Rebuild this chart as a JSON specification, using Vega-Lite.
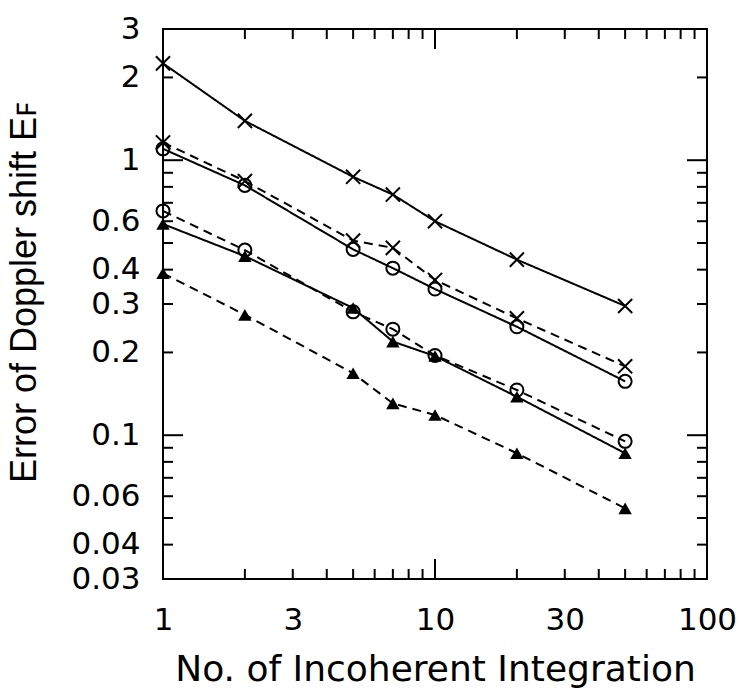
{
  "$schema": "https://vega.github.io/schema/vega-lite/v6.json",
  "autosize": "none",
  "width": 544,
  "height": 550,
  "padding": {"left": 163, "top": 29, "right": 38, "bottom": 109},
  "background": "white",
  "config": {
    "view": {"stroke": "black", "strokeWidth": 2},
    "axis": {
      "grid": false,
      "domain": false,
      "ticks": false,
      "labelColor": "black",
      "titleColor": "black",
      "labelFont": "DejaVu Sans",
      "labelFontSize": 31,
      "labelFontWeight": "normal",
      "labelFlush": false,
      "labelOverlap": false,
      "titleFontWeight": "normal"
    }
  },
  "datasets": {
    "points": [
      {"n": 1, "err": 2.25, "group": "X", "variant": "1"},
      {"n": 2, "err": 1.39, "group": "X", "variant": "1"},
      {"n": 5, "err": 0.87, "group": "X", "variant": "1"},
      {"n": 7, "err": 0.75, "group": "X", "variant": "1"},
      {"n": 10, "err": 0.6, "group": "X", "variant": "1"},
      {"n": 20, "err": 0.435, "group": "X", "variant": "1"},
      {"n": 50, "err": 0.295, "group": "X", "variant": "1"},
      {"n": 1, "err": 1.16, "group": "X", "variant": "2"},
      {"n": 2, "err": 0.84, "group": "X", "variant": "2"},
      {"n": 5, "err": 0.51, "group": "X", "variant": "2"},
      {"n": 7, "err": 0.48, "group": "X", "variant": "2"},
      {"n": 10, "err": 0.367, "group": "X", "variant": "2"},
      {"n": 20, "err": 0.266, "group": "X", "variant": "2"},
      {"n": 50, "err": 0.178, "group": "X", "variant": "2"},
      {"n": 1, "err": 1.1, "group": "O", "variant": "1"},
      {"n": 2, "err": 0.81, "group": "O", "variant": "1"},
      {"n": 5, "err": 0.474, "group": "O", "variant": "1"},
      {"n": 7, "err": 0.405, "group": "O", "variant": "1"},
      {"n": 10, "err": 0.34, "group": "O", "variant": "1"},
      {"n": 20, "err": 0.248, "group": "O", "variant": "1"},
      {"n": 50, "err": 0.157, "group": "O", "variant": "1"},
      {"n": 1, "err": 0.654, "group": "O", "variant": "2"},
      {"n": 2, "err": 0.471, "group": "O", "variant": "2"},
      {"n": 5, "err": 0.281, "group": "O", "variant": "2"},
      {"n": 7, "err": 0.243, "group": "O", "variant": "2"},
      {"n": 10, "err": 0.195, "group": "O", "variant": "2"},
      {"n": 20, "err": 0.146, "group": "O", "variant": "2"},
      {"n": 50, "err": 0.095, "group": "O", "variant": "2"},
      {"n": 1, "err": 0.586, "group": "T", "variant": "1"},
      {"n": 2, "err": 0.448, "group": "T", "variant": "1"},
      {"n": 5, "err": 0.29, "group": "T", "variant": "1"},
      {"n": 7, "err": 0.219, "group": "T", "variant": "1"},
      {"n": 10, "err": 0.194, "group": "T", "variant": "1"},
      {"n": 20, "err": 0.138, "group": "T", "variant": "1"},
      {"n": 50, "err": 0.086, "group": "T", "variant": "1"},
      {"n": 1, "err": 0.388, "group": "T", "variant": "2"},
      {"n": 2, "err": 0.274, "group": "T", "variant": "2"},
      {"n": 5, "err": 0.168, "group": "T", "variant": "2"},
      {"n": 7, "err": 0.1305, "group": "T", "variant": "2"},
      {"n": 10, "err": 0.1185, "group": "T", "variant": "2"},
      {"n": 20, "err": 0.086, "group": "T", "variant": "2"},
      {"n": 50, "err": 0.0542, "group": "T", "variant": "2"}
    ],
    "xticks": [
      {"n": 1, "kind": "major"}, {"n": 2, "kind": "minor"}, {"n": 3, "kind": "minor"},
      {"n": 4, "kind": "minor"}, {"n": 5, "kind": "minor"}, {"n": 6, "kind": "minor"},
      {"n": 7, "kind": "minor"}, {"n": 8, "kind": "minor"}, {"n": 9, "kind": "minor"},
      {"n": 10, "kind": "major"}, {"n": 20, "kind": "minor"}, {"n": 30, "kind": "minor"},
      {"n": 40, "kind": "minor"}, {"n": 50, "kind": "minor"}, {"n": 60, "kind": "minor"},
      {"n": 70, "kind": "minor"}, {"n": 80, "kind": "minor"}, {"n": 90, "kind": "minor"},
      {"n": 100, "kind": "major"}
    ],
    "yticks": [
      {"err": 0.04, "kind": "minor"}, {"err": 0.05, "kind": "minor"}, {"err": 0.06, "kind": "minor"},
      {"err": 0.07, "kind": "minor"}, {"err": 0.08, "kind": "minor"}, {"err": 0.09, "kind": "minor"},
      {"err": 0.1, "kind": "major"}, {"err": 0.2, "kind": "minor"}, {"err": 0.3, "kind": "minor"},
      {"err": 0.4, "kind": "minor"}, {"err": 0.5, "kind": "minor"}, {"err": 0.6, "kind": "minor"},
      {"err": 0.7, "kind": "minor"}, {"err": 0.8, "kind": "minor"}, {"err": 0.9, "kind": "minor"},
      {"err": 1, "kind": "major"}, {"err": 2, "kind": "minor"}
    ]
  },
  "layer": [
    {
      "data": {"name": "points"},
      "mark": {"type": "line", "color": "black", "strokeWidth": 2},
      "encoding": {
        "x": {
          "field": "n", "type": "quantitative",
          "scale": {"type": "log", "domain": [1, 100], "nice": false},
          "axis": {
            "orient": "bottom",
            "values": [1, 3, 10, 30, 100],
            "format": "~g",
            "labelPadding": 26,
            "labelBaseline": "top",
            "title": "No. of Incoherent Integration",
            "titleFont": "DejaVu Sans",
            "titleFontSize": 36,
            "titleBaseline": "alphabetic",
            "titleY": 101
          }
        },
        "y": {
          "field": "err", "type": "quantitative",
          "scale": {"type": "log", "domain": [0.03, 3], "nice": false},
          "axis": {
            "orient": "left",
            "values": [0.03, 0.04, 0.06, 0.1, 0.2, 0.3, 0.4, 0.6, 1, 2, 3],
            "format": "~g",
            "labelPadding": 23,
            "title": "Error of Doppler shift Eꜰ",
            "titleFont": "Liberation Sans",
            "titleFontSize": 36,
            "titleX": -120,
            "titleY": 263,
            "titleBaseline": "bottom",
            "titleAngle": -90
          }
        },
        "detail": {"field": "group"},
        "strokeDash": {
          "field": "variant", "type": "nominal",
          "scale": {"domain": ["1", "2"], "range": [[1, 0], [9, 6]]},
          "legend": null
        }
      }
    },
    {
      "data": {"name": "points"},
      "transform": [{"filter": "datum.group == 'X'"}],
      "mark": {"type": "point", "shape": "M-1,-1L1,1M1,-1L-1,1", "size": 200, "color": "black", "strokeWidth": 2, "filled": false, "opacity": 1},
      "encoding": {
        "x": {"field": "n", "type": "quantitative"},
        "y": {"field": "err", "type": "quantitative"}
      }
    },
    {
      "data": {"name": "points"},
      "transform": [{"filter": "datum.group == 'O'"}],
      "mark": {"type": "point", "shape": "circle", "size": 170, "color": "black", "strokeWidth": 2, "filled": false, "opacity": 1},
      "encoding": {
        "x": {"field": "n", "type": "quantitative"},
        "y": {"field": "err", "type": "quantitative"}
      }
    },
    {
      "data": {"name": "points"},
      "transform": [{"filter": "datum.group == 'T'"}],
      "mark": {"type": "point", "shape": "triangle-up", "color": "black", "filled": true, "size": 180, "opacity": 1},
      "encoding": {
        "x": {"field": "n", "type": "quantitative"},
        "y": {"field": "err", "type": "quantitative"}
      }
    },
    {
      "data": {"name": "xticks"},
      "mark": {"type": "point", "shape": "M0,0L0,-1", "color": "black", "strokeWidth": 2, "filled": false, "opacity": 1},
      "encoding": {
        "x": {"field": "n", "type": "quantitative"},
        "y": {"datum": 0.03, "type": "quantitative"},
        "size": {"field": "kind", "type": "nominal", "scale": {"type": "ordinal", "domain": ["major", "minor"], "range": [1600, 400]}, "legend": null}
      }
    },
    {
      "data": {"name": "xticks"},
      "mark": {"type": "point", "shape": "M0,0L0,1", "color": "black", "strokeWidth": 2, "filled": false, "opacity": 1},
      "encoding": {
        "x": {"field": "n", "type": "quantitative"},
        "y": {"datum": 3, "type": "quantitative"},
        "size": {"field": "kind", "type": "nominal", "scale": {"type": "ordinal", "domain": ["major", "minor"], "range": [1600, 400]}, "legend": null}
      }
    },
    {
      "data": {"name": "yticks"},
      "mark": {"type": "point", "shape": "M0,0L1,0", "color": "black", "strokeWidth": 2, "filled": false, "opacity": 1},
      "encoding": {
        "y": {"field": "err", "type": "quantitative"},
        "x": {"datum": 1, "type": "quantitative"},
        "size": {"field": "kind", "type": "nominal", "scale": {"type": "ordinal", "domain": ["major", "minor"], "range": [1600, 400]}, "legend": null}
      }
    },
    {
      "data": {"name": "yticks"},
      "mark": {"type": "point", "shape": "M0,0L-1,0", "color": "black", "strokeWidth": 2, "filled": false, "opacity": 1},
      "encoding": {
        "y": {"field": "err", "type": "quantitative"},
        "x": {"datum": 100, "type": "quantitative"},
        "size": {"field": "kind", "type": "nominal", "scale": {"type": "ordinal", "domain": ["major", "minor"], "range": [1600, 400]}, "legend": null}
      }
    }
  ]
}
